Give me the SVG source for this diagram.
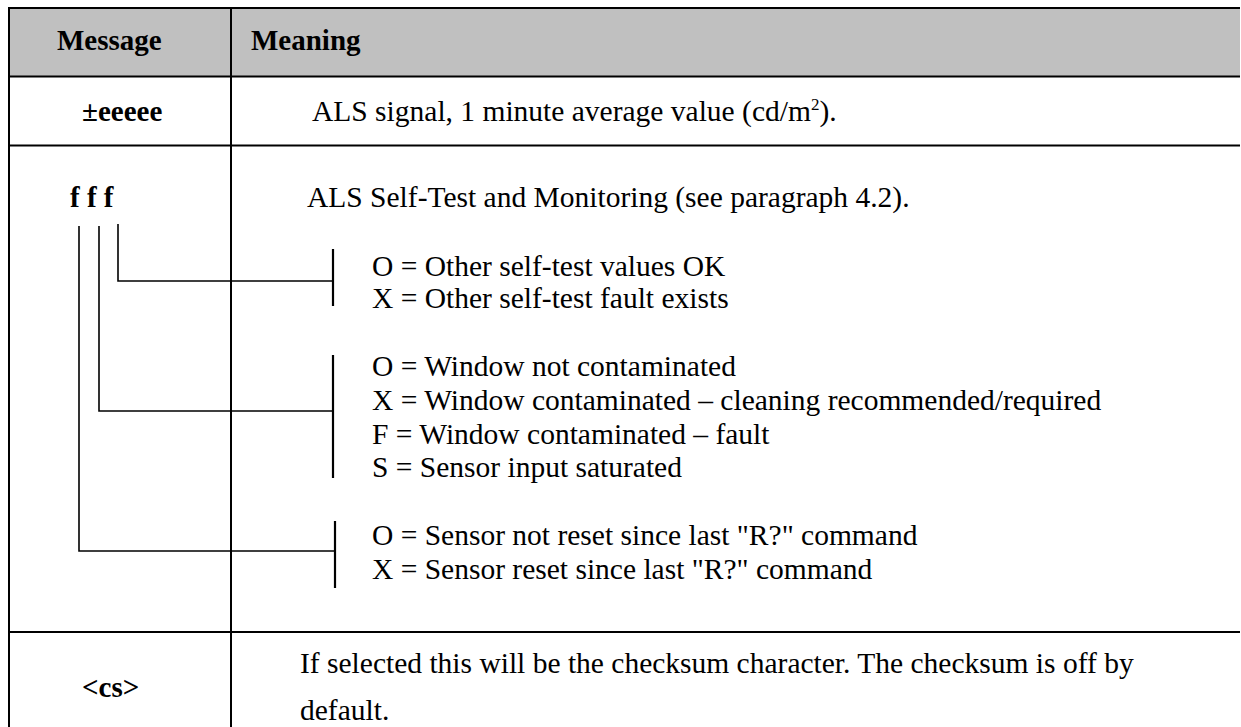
<svg xmlns="http://www.w3.org/2000/svg" width="1241" height="727" viewBox="0 0 1241 727">
  <style>
    .grid { stroke: #000; stroke-width: 2; fill: none; }
    .lead { stroke: #000; stroke-width: 1.6; fill: none; }
    .tick { stroke: #000; stroke-width: 2.2; fill: none; }
    .t { font-family: "Liberation Serif", "Times New Roman", serif; font-size: 29.5px; fill: #000; }
    .b { font-family: "Liberation Serif", "Times New Roman", serif; font-size: 29px; font-weight: bold; fill: #000; }
  </style>

  <rect x="0" y="0" width="1241" height="727" fill="#fff"/>

  <!-- table frame (open on the right edge) -->
  <g id="table">
    <rect x="9" y="8" width="1231" height="68" fill="#c0c0c0"/>
    <line class="grid" x1="8" y1="8" x2="1240" y2="8"/>
    <line class="grid" x1="8" y1="76.5" x2="1240" y2="76.5"/>
    <line class="grid" x1="8" y1="145.5" x2="1240" y2="145.5"/>
    <line class="grid" x1="8" y1="632" x2="1240" y2="632"/>
    <line class="grid" x1="9" y1="7" x2="9" y2="727"/>
    <line class="grid" x1="231" y1="7" x2="231" y2="727"/>
  </g>

  <!-- header row -->
  <g id="header">
    <text class="b" x="57" y="50">Message</text>
    <text class="b" x="251" y="50">Meaning</text>
  </g>

  <!-- signal row -->
  <g id="row-signal">
    <text class="b" x="82" y="121">±eeeee</text>
    <text class="t" x="312" y="121">ALS signal, 1 minute average value (cd/m<tspan font-size="17px" dy="-11">2</tspan><tspan dy="11">).</tspan></text>
  </g>

  <!-- self-test row -->
  <g id="row-selftest">
    <text class="b" x="70" y="207">f f f</text>
    <text class="t" x="307" y="207">ALS Self-Test and Monitoring (see paragraph 4.2).</text>
  </g>

  <g id="flag-other">
    <text class="t" x="372" y="276">O = Other self-test values OK</text>
    <text class="t" x="372" y="308">X = Other self-test fault exists</text>
  </g>

  <g id="flag-window">
    <text class="t" x="372" y="376">O = Window not contaminated</text>
    <text class="t" x="372" y="410">X = Window contaminated – cleaning recommended/required</text>
    <text class="t" x="372" y="444">F = Window contaminated – fault</text>
    <text class="t" x="372" y="477">S = Sensor input saturated</text>
  </g>

  <g id="flag-reset">
    <text class="t" x="372" y="545">O = Sensor not reset since last "R?" command</text>
    <text class="t" x="372" y="579">X = Sensor reset since last "R?" command</text>
  </g>

  <!-- leader lines from each flag character to its value list -->
  <g id="connectors">
    <polyline class="lead" points="118,224 118,281 333,281"/>
    <line class="tick" x1="333" y1="249" x2="333" y2="306"/>
    <polyline class="lead" points="99,226 99,411 333,411"/>
    <line class="tick" x1="333" y1="355" x2="333" y2="478"/>
    <polyline class="lead" points="79,226 79,551 335,551"/>
    <line class="tick" x1="335" y1="521" x2="335" y2="588"/>
  </g>

  <!-- checksum row -->
  <g id="row-checksum">
    <text class="b" x="82" y="697">&lt;cs&gt;</text>
    <text class="t" x="300" y="673">If selected this will be the checksum character. The checksum is off by</text>
    <text class="t" x="300" y="720">default.</text>
  </g>
</svg>
